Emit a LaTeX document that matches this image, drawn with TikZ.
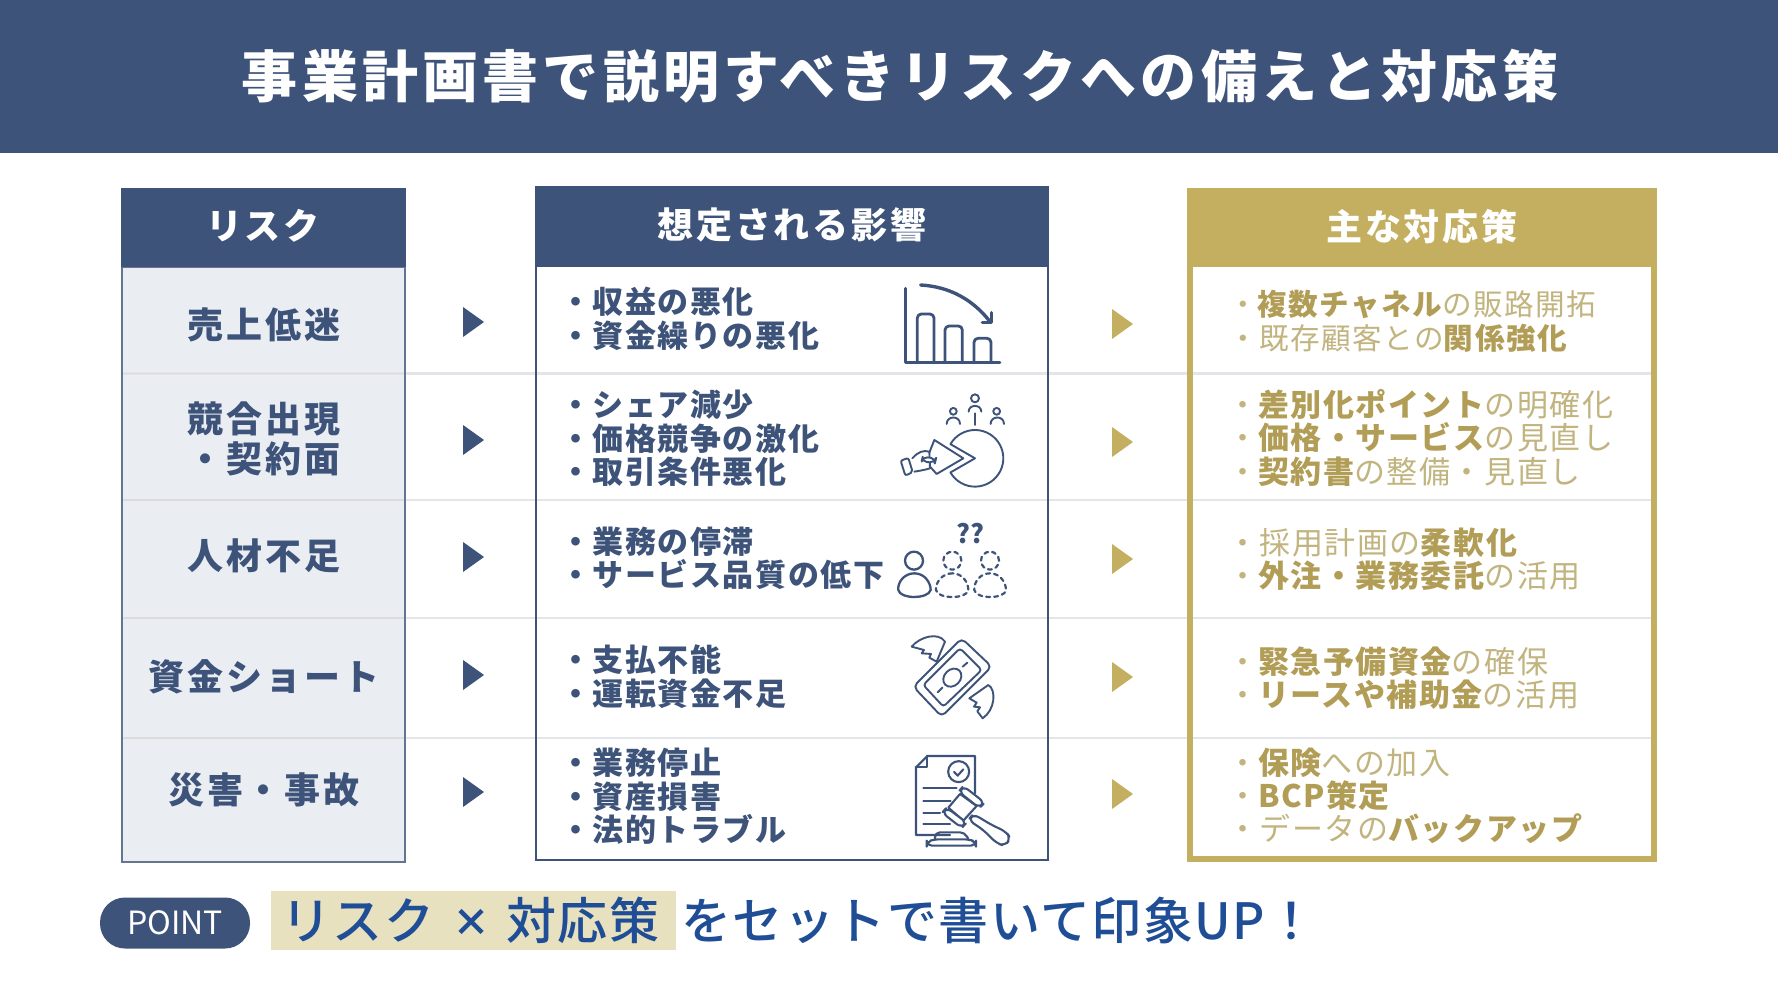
\documentclass[tikz,border=0pt]{standalone}
\usepackage{fontspec}
\setmainfont{Noto Sans CJK JP}
\newfontfamily\ttl[LetterSpace=7.5]{Noto Sans CJK JP}
\newfontfamily\lab[LetterSpace=8]{Noto Sans CJK JP}
\newfontfamily\itm[LetterSpace=5]{Noto Sans CJK JP}
\newfontfamily\pnt[LetterSpace=3,BoldFont={Noto Sans CJK JP Medium}]{Noto Sans CJK JP}
\definecolor{navy}{HTML}{3D5379}
\definecolor{gold}{HTML}{C4AE5F}
\definecolor{goldbd}{HTML}{B19D55}
\definecolor{goldlt}{HTML}{C2B47F}
\definecolor{pale}{HTML}{EAEDF2}
\definecolor{divd}{HTML}{E3E5E8}
\definecolor{band}{HTML}{E8E1C0}
\definecolor{pblue}{HTML}{1F4E96}
\tikzset{
  x=1pt,y=-1pt,
  txt/.style={inner sep=0pt,text height=.88*#1 pt,text depth=.12*#1 pt},
  headtxt/.style={txt=36,text=white,font=\fontsize{36}{36}\lab\bfseries},
  risktxt/.style={txt=36,text=navy,font=\fontsize{36}{36}\lab\bfseries},
  impact/.style={txt=31,anchor=west,text=navy,font=\fontsize{31}{31}\itm\bfseries},
  measure/.style={txt=31,anchor=west,text=goldlt,font=\fontsize{31}{31}\itm},
  measures/.style={measure,font=\fontsize{29.6}{29.6}\itm},
  bottomtxt/.style={txt=50,anchor=west,text=pblue,font=\fontsize{50}{50}\pnt\bfseries},
  icon/.style={draw=navy,line width=1.9pt,line cap=round,line join=round},
  iconb/.style={icon,line width=2.8pt},
}
\newcommand{\gb}[1]{\textcolor{goldbd}{\bfseries #1}}
\newcommand{\triang}[3]{\fill[#3] (#1,#2-15) -- (#1+21,#2) -- (#1,#2+15) -- cycle;}
\begin{document}
\begin{tikzpicture}
\useasboundingbox (0,0) rectangle (1778,1000);
\fill[white] (0,0) rectangle (1778,1000);
\fill[navy] (0,0) rectangle (1778,153);
\node[txt=56,text=white,font=\fontsize{56}{56}\ttl\bfseries] (title) at (900,76) {事業計画書で説明すべきリスクへの備えと対応策};

% column fills
\fill[pale] (121,267) rectangle (406,862);
% dividers
\foreach \y in {373.5,500,618,738} {\draw[divd,line width=2.5pt] (121,\y) -- (1657,\y);}
\foreach \y in {373.5,500,618,738} {\draw[black!14,line width=1.5pt] (122,\y) -- (405,\y);}
% column borders and heads
\draw[navy!80,line width=2pt] (122,267) rectangle (405,862);
\fill[navy] (121,188) rectangle (406,267);
\draw[navy,line width=2pt] (536,266) rectangle (1048,860);
\fill[navy] (535,186) rectangle (1049,266);
\draw[gold,line width=6pt] (1190,264) rectangle (1654,859);
\fill[gold] (1187,188) rectangle (1657,267);

\node[headtxt] (h1) at (263,226) {リスク};
\node[headtxt] (h2) at (792,225) {想定される影響};
\node[headtxt] (h3) at (1422,227) {主な対応策};

\node[risktxt] (r1) at (264,325) {売上低迷};
\node[risktxt] (r2a) at (264,419) {競合出現};
\node[risktxt] (r2b) at (264,459) {・契約面};
\node[risktxt] (r3) at (264,556) {人材不足};
\node[risktxt] (r4) at (264,677) {資金ショート};
\node[risktxt] (r5) at (264,790) {災害・事故};

% arrows
\foreach \y in {322,440,557,675,792} {\triang{463}{\y}{navy}}
\foreach \y in {324,442,559,677,794} {\triang{1112}{\y}{gold}}

% impacts
\node[impact] (m1a) at (560,302) {・収益の悪化};
\node[impact] (m1b) at (560,336) {・資金繰りの悪化};
\node[impact] (m2a) at (560,405) {・シェア減少};
\node[impact] (m2b) at (560,439) {・価格競争の激化};
\node[impact] (m2c) at (560,472) {・取引条件悪化};
\node[impact] (m3a) at (560,542) {・業務の停滞};
\node[impact] (m3b) at (560,575) {・サービス品質の低下};
\node[impact] (m4a) at (560,660) {・支払不能};
\node[impact] (m4b) at (560,694) {・運転資金不足};
\node[impact] (m5a) at (560,763) {・業務停止};
\node[impact] (m5b) at (560,797) {・資産損害};
\node[impact] (m5c) at (560,830) {・法的トラブル};

% measures
\node[measures] (c1a) at (1228,304) {・\gb{複数チャネル}の販路開拓};
\node[measures] (c1b) at (1228,338) {・既存顧客との\gb{関係強化}};
\node[measure] (c2a) at (1227,405) {・\gb{差別化ポイント}の明確化};
\node[measure] (c2b) at (1227,438) {・\gb{価格・サービス}の見直し};
\node[measure] (c2c) at (1227,472) {・\gb{契約書}の整備・見直し};
\node[measure] (c3a) at (1227,543) {・採用計画の\gb{柔軟化}};
\node[measure] (c3b) at (1227,576) {・\gb{外注・業務委託}の活用};
\node[measure] (c4a) at (1227,662) {・\gb{緊急予備資金}の確保};
\node[measure] (c4b) at (1227,695) {・\gb{リースや補助金}の活用};
\node[measure] (c5a) at (1227,763) {・\gb{保険}への加入};
\node[measure] (c5b) at (1227,796) {・\gb{BCP策定}};
\node[measure] (c5c) at (1227,829) {・データの\gb{バックアップ}};

% bottom
\node[fill=navy,rounded corners=25pt,minimum width=150pt,minimum height=51pt,inner sep=0pt,text=white,font=\fontsize{32}{32}\selectfont] (point) at (175,923) {POINT};
\fill[band] (271,891) rectangle (676,950);
\node[bottomtxt] (p1) at (281,920) {リスク};
\node[txt=34,text=pblue,font=\fontsize{38}{38}\selectfont\bfseries] (px) at (471,924) {×};
\node[bottomtxt] (p1b) at (506,920) {対応策};
\node[bottomtxt] (p2) at (681,920) {をセットで書いて印象UP！};

% icon 1
\begin{scope}[shift={(880,270)},x=.3333pt,y=-.3333pt]
\draw[iconb] (76,55) -- (76,278) -- (360,278);
\draw[iconb,rounded corners=4pt] (112,278) -- (112,132) -- (162,132) -- (162,278);
\draw[iconb,rounded corners=4pt] (195,278) -- (195,168) -- (247,168) -- (247,278);
\draw[iconb,rounded corners=4pt] (282,278) -- (282,205) -- (333,205) -- (333,278);
\draw[iconb,line width=3.4pt] (122,45) .. controls (210,50) and (280,90) .. (330,155);
\draw[iconb,line width=3.4pt] (335,128) -- (335,157) -- (307,157);
% icon 2
\draw[icon] (285,385) circle (4pt);
\draw[icon] (266,425) .. controls (266,402) and (304,402) .. (304,425);
\draw[icon] (285,430) -- (285,465);
\draw[icon] (220,424) circle (3.4pt);
\draw[icon] (200,462) .. controls (200,436) and (240,436) .. (240,462);
\draw[icon] (350,424) circle (3.4pt);
\draw[icon] (332,462) .. controls (332,436) and (372,436) .. (372,462);
\draw[icon] plot[smooth,domain=150:-150,samples=40] ({285+85*cos(\x)},{565+85*sin(\x)}) -- (285,565) -- cycle;
\draw[icon,fill=white] (163,510) -- (250,565) -- (170,612) -- (150,590) -- (145,555) -- cycle;
\draw[icon,fill=white,rounded corners=2pt] (62,572) -- (85,564) -- (98,606) -- (76,617) -- cycle;
\draw[icon,fill=white] (97,565) .. controls (115,545) and (130,540) .. (148,545) -- (150,595) .. controls (135,600) and (115,603) .. (103,605);
\draw[icon,fill=white,rounded corners=5pt] (125,575) -- (128,560) -- (168,566) -- (165,578) -- cycle;
\end{scope}
% icons 3-5
\begin{scope}[shift={(880,510)},x=.3333pt,y=-.3333pt]
\draw[icon,line width=2.3pt] (102,152) circle (9pt);
\draw[icon,line width=2.3pt] (103,190) .. controls (72,190) and (52,218) .. (55,240) .. controls (60,268) and (145,268) .. (152,240) .. controls (152,218) and (134,190) .. (103,190) -- cycle;
\draw[icon,dash pattern=on 4pt off 4pt,line width=2.2pt] (217,152) circle (9pt);
\draw[icon,dash pattern=on 4pt off 4pt,line width=2.2pt] (330,152) circle (9pt);
\draw[icon,dash pattern=on 4pt off 4pt,line width=2.2pt] (217,190) .. controls (186,190) and (166,218) .. (168,240) .. controls (172,268) and (262,268) .. (265,240) .. controls (265,218) and (248,190) .. (217,190);
\draw[icon,dash pattern=on 4pt off 4pt,line width=2.2pt] (330,190) .. controls (299,190) and (281,218) .. (283,240) .. controls (287,268) and (375,268) .. (378,240) .. controls (378,218) and (361,190) .. (330,190);
\node[txt=26,text=navy,font=\fontsize{26}{26}\selectfont\bfseries] (qq) at (272,72) {??};
% money
\draw[icon,fill=white] (95,410) .. controls (120,380) and (175,365) .. (195,395) -- (170,455) -- (148,443) -- (153,432) -- (125,430) -- (132,420) -- cycle;
\draw[icon,fill=white] (308,625) .. controls (345,600) and (350,540) .. (325,525) -- (268,565) -- (290,578) -- (282,590) -- (300,592) -- (292,604) -- cycle;
\draw[icon,fill=white,rounded corners=5pt] (245,385) -- (335,470) -- (185,620) -- (100,530) -- cycle;
\draw[icon,rounded corners=3pt] (240,415) -- (305,480) -- (190,590) -- (130,525) -- cycle;
\draw[icon,rotate around={45:(217,503)}] (217,503) ellipse (10pt and 8pt);
\draw[icon] (248,470) -- (262,458);
\draw[icon] (173,547) -- (187,533);
% document & gavel
\draw[icon,line width=2.1pt] (210,975) -- (108,975) -- (108,772) -- (142,738) -- (285,738) -- (285,850);
\draw[icon,line width=2.1pt] (108,772) -- (142,772) -- (142,738);
\draw[icon,line width=2.1pt] (236,785) circle (10.5pt);
\draw[icon,line width=2.1pt] (222,786) -- (233,797) -- (250,778);
\draw[icon,line width=2.1pt] (130,835) -- (230,835);
\draw[icon,line width=2.1pt] (130,872) -- (212,872);
\draw[icon,line width=2.1pt] (130,908) -- (180,908);
\draw[icon,line width=2.1pt] (130,943) -- (210,943);
\draw[icon,line width=2.1pt,fill=white,rounded corners=6pt] (280,912) -- (335,945) -- (378,965) -- (392,985) -- (375,1008) -- (350,1000) -- (310,960) -- (265,930) -- cycle;
\draw[icon,line width=2.1pt,fill=white] (240,852) -- (290,888) -- (250,932) -- (205,893) -- cycle;
\draw[icon,line width=2.1pt,fill=white,rounded corners=6pt] (250,828) -- (314,878) -- (298,894) -- (236,845) -- cycle;
\draw[icon,line width=2.1pt,fill=white,rounded corners=6pt] (200,893) -- (260,938) -- (245,954) -- (186,908) -- cycle;
\draw[icon,line width=2.1pt,rounded corners=5pt] (165,988) -- (165,967) -- (255,967) -- (265,988);
\draw[icon,line width=2.1pt,rounded corners=5pt] (165,988) -- (140,995) -- (140,1007) -- (288,1007) -- (288,995) -- (265,988) -- cycle;
\end{scope}
\end{tikzpicture}
\end{document}
